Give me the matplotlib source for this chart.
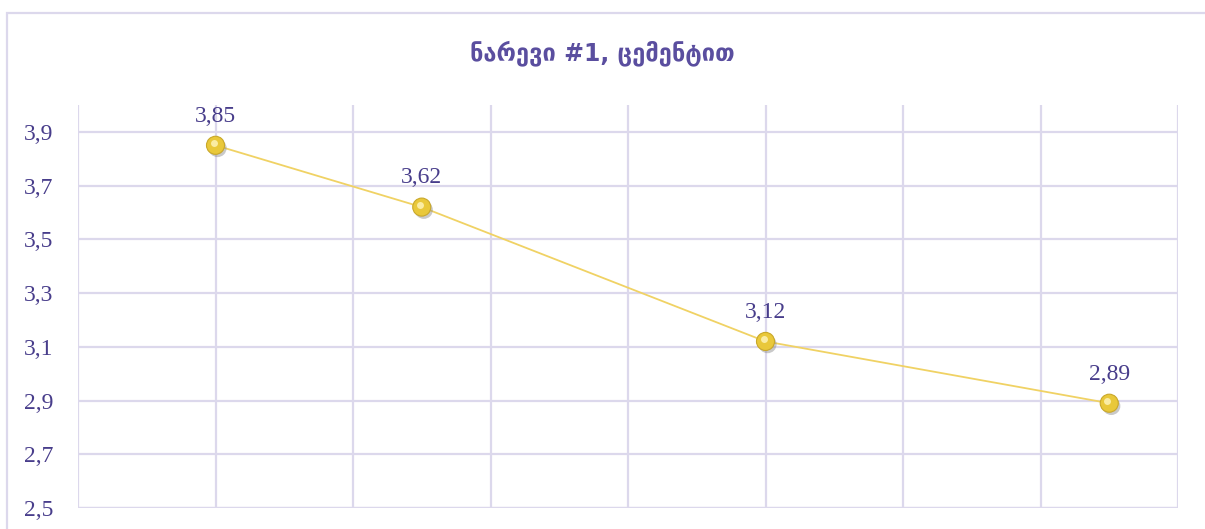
import matplotlib.pyplot as plt
import matplotlib.patheffects as pe
import matplotlib.transforms as mtransforms
from matplotlib.patches import Rectangle
from matplotlib.ticker import FuncFormatter, MultipleLocator

title = "ნარევი #1, ცემენტით"
x_vals = [1, 2.5, 5, 7.5]
y_vals = [3.85, 3.62, 3.12, 2.89]
y_ticks = [2.5, 2.7, 2.9, 3.1, 3.3, 3.5, 3.7, 3.9]

text_color = '#483d8b'
grid_color = '#dcd8ec'
line_color = '#f0d264'

fig = plt.figure(figsize=(12.05, 5.29), dpi=100)
# outer chart border (only left and top edges are inside the picture)
fig.patches.append(Rectangle((7 / 1205, -0.2), 1.2, 1.2 - 13 / 529,
                             transform=fig.transFigure, fill=False,
                             edgecolor=grid_color, linewidth=1.6))
ax = fig.add_axes([78 / 1205, 1 - 508 / 529, 1100 / 1205, 403 / 529])

ax.plot(x_vals, y_vals, color=line_color, linewidth=1.3, zorder=3)
ax.plot(x_vals, y_vals, linestyle='none', marker='o', markersize=13,
        markerfacecolor='#e9c83a', markeredgecolor='#c9a82a', markeredgewidth=0.8,
        zorder=4,
        path_effects=[pe.SimplePatchShadow(offset=(1.5, -2), shadow_rgbFace='#888888', alpha=0.45),
                      pe.Normal()])
# highlight on the spheres
shift = mtransforms.ScaledTranslation(-2 / 100, 2.5 / 100, fig.dpi_scale_trans)
ax.plot(x_vals, y_vals, linestyle='none', marker='o', markersize=5,
        markerfacecolor='#fff6c0', markeredgewidth=0, alpha=0.8, zorder=5,
        transform=ax.transData + shift)

for x, y in zip(x_vals, y_vals):
    ax.annotate('{:.2f}'.format(y).replace('.', ','), xy=(x, y), xytext=(0, 17),
                textcoords='offset points', ha='center', va='baseline',
                fontsize=17, color=text_color, family='Liberation Serif')

ax.set_xlim(0, 8)
ax.set_ylim(2.5, 4.0)
ax.xaxis.set_major_locator(MultipleLocator(1))
ax.set_yticks(y_ticks)
ax.yaxis.set_major_formatter(FuncFormatter(lambda v, p: '{:.1f}'.format(v).replace('.', ',')))
ax.set_xticklabels([])
ax.tick_params(axis='both', length=0)
ax.tick_params(axis='y', pad=18, labelsize=17, labelcolor=text_color)
for lab in ax.get_yticklabels():
    lab.set_family('Liberation Serif')
ax.grid(True, color=grid_color, linewidth=1.6)
ax.set_axisbelow(True)
for s in ax.spines.values():
    s.set_visible(False)
ax.axhline(2.5, color=grid_color, linewidth=1.6, zorder=1)

fig.text(0.5, 1 - 53 / 529, title, ha='center', va='center', fontsize=17,
         fontweight='bold', color='#5a4e9f', family=['DejaVu Sans'])

plt.savefig('out.png', dpi=100)
